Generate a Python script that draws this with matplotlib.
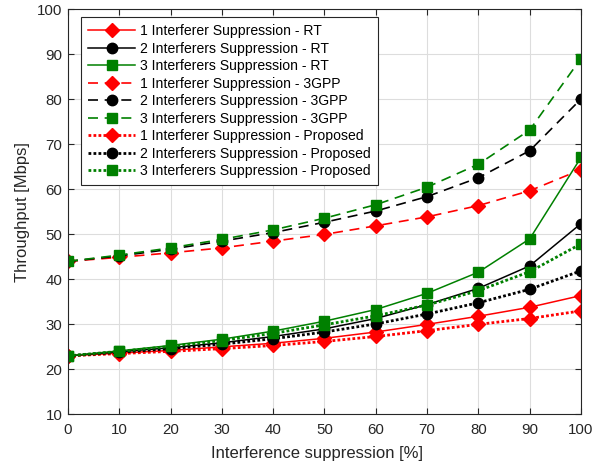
import matplotlib.pyplot as plt
import numpy as np

plt.rcParams['font.family'] = ['Liberation Sans', 'DejaVu Sans']

# Interference suppression [%]
x = [0, 10, 20, 30, 40, 50, 60, 70, 80, 90, 100]

# Throughput [Mbps]
rt_1 = [23, 23.6, 24.2, 25.0, 25.8, 26.9, 28.3, 30.0, 31.8, 33.8, 36.4]
rt_2 = [23, 23.9, 24.8, 25.9, 27.3, 29.0, 31.3, 34.4, 38.0, 43.0, 52.4]
rt_3 = [23, 24.1, 25.3, 26.7, 28.5, 30.7, 33.3, 36.9, 41.6, 49.0, 67.1]
gpp_1 = [44, 44.9, 45.9, 47.0, 48.5, 50.0, 51.9, 53.9, 56.4, 59.7, 64.4]
gpp_2 = [44, 45.2, 46.7, 48.5, 50.4, 52.7, 55.2, 58.4, 62.6, 68.6, 80.1]
gpp_3 = [44, 45.4, 47.0, 48.9, 51.0, 53.6, 56.6, 60.5, 65.6, 73.2, 89.1]
prop_1 = [23, 23.5, 24.0, 24.6, 25.3, 26.2, 27.3, 28.6, 30.0, 31.3, 33.0]
prop_2 = [23, 23.8, 24.6, 25.6, 26.8, 28.3, 30.1, 32.3, 34.8, 37.8, 41.9]
prop_3 = [23, 24.0, 25.1, 26.4, 28.0, 29.9, 31.9, 34.3, 37.5, 41.7, 47.9]

labels = ["1 Interferer Suppression - RT", "2 Interferers Suppression - RT",
          "3 Interferers Suppression - RT", "1 Interferer Suppression - 3GPP",
          "2 Interferers Suppression - 3GPP", "3 Interferers Suppression - 3GPP",
          "1 Interferer Suppression - Proposed", "2 Interferers Suppression - Proposed",
          "3 Interferers Suppression - Proposed"]

red = '#FF0000'
green = '#008000'
black = '#000000'

fig = plt.figure(figsize=(6, 4.65), dpi=100)
ax = fig.add_axes([0.1133, 0.109, 0.855, 0.8706])

series = [rt_1, rt_2, rt_3, gpp_1, gpp_2, gpp_3, prop_1, prop_2, prop_3]
colors = [red, black, green] * 3
markers = ['D', 'o', 's'] * 3
msizes = [7.5, 7.5, 6.5] * 3
styles = ['-'] * 3 + [(0, (6, 4))] * 3 + [(0, (1, 0.8))] * 3
widths = [1.1] * 3 + [1.2] * 3 + [2.0] * 3

for y, c, m, ms, ls, lw, lab in zip(series, colors, markers, msizes, styles, widths, labels):
    ax.plot(x, y, color=c, marker=m, markersize=ms, linestyle=ls, linewidth=lw,
            markerfacecolor=c, markeredgecolor=c, label=lab)

ax.set_xlim(0, 100)
ax.set_ylim(10, 100)
ax.set_xticks(np.arange(0, 101, 10))
ax.set_yticks(np.arange(10, 101, 10))
ax.grid(True, color='#dddddd', linewidth=0.8)
ax.set_axisbelow(True)
ax.tick_params(direction='in', top=True, right=True, labelsize=10.8, length=4, colors='#262626')
ax.tick_params(axis='x', pad=6)
ax.tick_params(axis='y', pad=4)
for s in ax.spines.values():
    s.set_color('#262626')
    s.set_linewidth(0.8)
ax.set_xlabel("Interference suppression [%]", fontsize=12, color='#262626')
ax.xaxis.set_label_coords(0.486, -0.078)
ax.set_ylabel("Throughput [Mbps]", fontsize=12, color='#262626', labelpad=5)

leg = ax.legend(loc='upper left', bbox_to_anchor=(0.0248, 0.981), borderaxespad=0,
                fontsize=10.1, handlelength=3.4, handletextpad=0.35, labelspacing=0.25,
                borderpad=0.5, fancybox=False, framealpha=1, edgecolor='#262626')
leg.get_frame().set_linewidth(0.8)

fig.savefig('out.png', dpi=100)
